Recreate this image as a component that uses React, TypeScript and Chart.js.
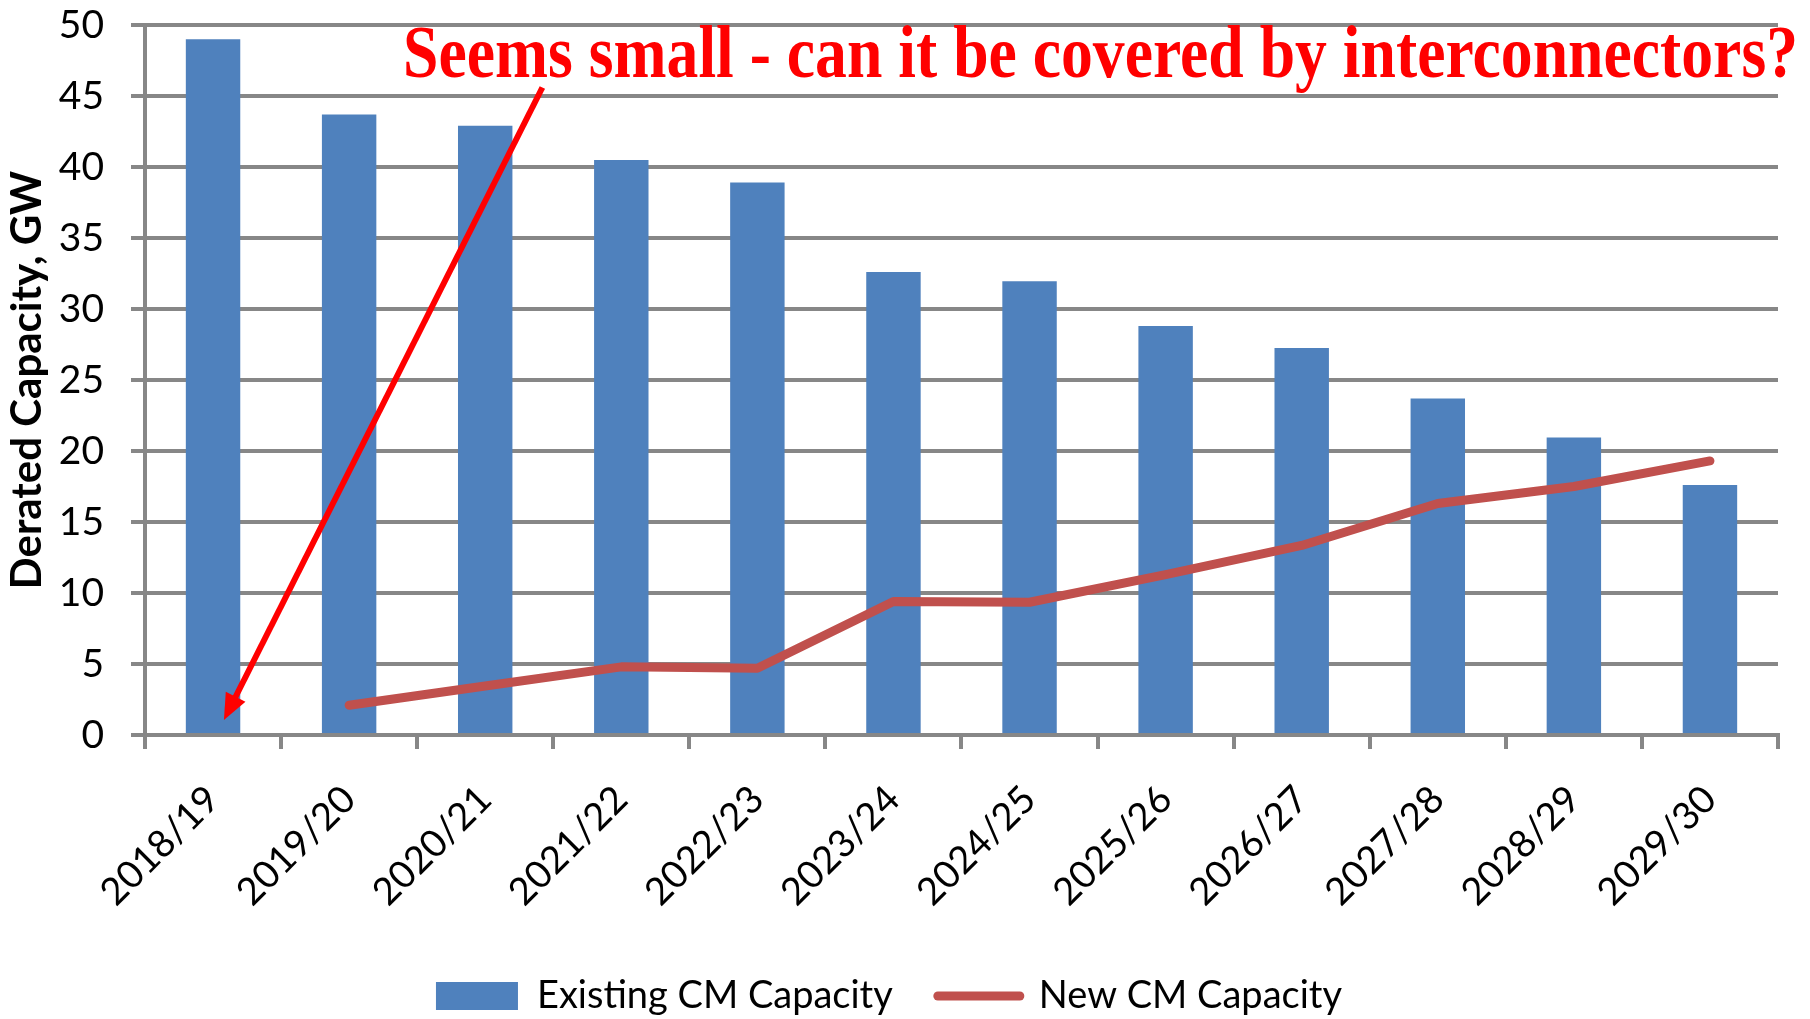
import React, { useEffect, useRef } from "react";
import { Chart, registerables } from "chart.js";

Chart.register(...registerables);

// ---------- data ----------
const categories = [
  "2018/19", "2019/20", "2020/21", "2021/22", "2022/23", "2023/24",
  "2024/25", "2025/26", "2026/27", "2027/28", "2028/29", "2029/30",
];
const existingCapacity = [49.0, 43.7, 42.9, 40.5, 38.9, 32.6, 31.95, 28.8, 27.25, 23.7, 20.95, 17.6];
const newCapacity = [null, 2.1, 3.45, 4.8, 4.7, 9.4, 9.35, 11.3, 13.35, 16.3, 17.5, 19.3];
const seriesNames = ["Existing CM Capacity", "New CM Capacity"];
const yAxisTitle = "Derated Capacity, GW";
const yMin = 0;
const yMax = 50;
const yStep = 5;

const annotationText = "Seems small - can it be covered by interconnectors?";
// annotation anchors in data units (category index, GW)
const annotationTextAnchor = [1.396, 46.34];
const arrowStart = [2.42, 45.6];
const arrowTip = [0.08, 1.06];

// ---------- styles ----------
const BAR_COLOR = "#4F81BD";
const LINE_COLOR = "#C0504D";
const GRID_COLOR = "#878787";
const FONT = "Lato";

const annotationPlugin = {
  id: "redAnnotation",
  afterDraw(chart: any) {
    const ctx = chart.ctx as CanvasRenderingContext2D;
    const xs = chart.scales.x;
    const ys = chart.scales.y;
    ctx.save();
    // text
    ctx.font = 'bold 74px "Liberation Serif"';
    ctx.fillStyle = "#FF0000";
    ctx.textBaseline = "alphabetic";
    ctx.textAlign = "left";
    const tx = xs.getPixelForValue(annotationTextAnchor[0]);
    const ty = ys.getPixelForValue(annotationTextAnchor[1]);
    const w = ctx.measureText(annotationText).width;
    const targetW = 1395;
    ctx.translate(tx, ty);
    ctx.scale(targetW / w, 1);
    ctx.fillText(annotationText, 0, 0);
    ctx.restore();

    // arrow
    ctx.save();
    const x1 = xs.getPixelForValue(arrowStart[0]);
    const y1 = ys.getPixelForValue(arrowStart[1]);
    const x2 = xs.getPixelForValue(arrowTip[0]);
    const y2 = ys.getPixelForValue(arrowTip[1]);
    const ang = Math.atan2(y2 - y1, x2 - x1);
    const headLen = 26;
    const headHalf = 11;
    const bx = x2 - headLen * Math.cos(ang);
    const by = y2 - headLen * Math.sin(ang);
    ctx.strokeStyle = "#FF0000";
    ctx.fillStyle = "#FF0000";
    ctx.lineWidth = 6;
    ctx.beginPath();
    ctx.moveTo(x1, y1);
    ctx.lineTo(bx + 2 * Math.cos(ang), by + 2 * Math.sin(ang));
    ctx.stroke();
    ctx.beginPath();
    ctx.moveTo(x2, y2);
    ctx.lineTo(bx + headHalf * Math.sin(ang), by - headHalf * Math.cos(ang));
    ctx.lineTo(bx - headHalf * Math.sin(ang), by + headHalf * Math.cos(ang));
    ctx.closePath();
    ctx.fill();
    ctx.restore();
  },
};

export default function App() {
  const canvasRef = useRef<HTMLCanvasElement | null>(null);

  useEffect(() => {
    document.body.style.margin = "0";
    const canvas = canvasRef.current;
    if (!canvas) return;
    const chart = new Chart(canvas, {
      type: "bar",
      data: {
        labels: categories,
        datasets: [
          {
            type: "bar",
            label: seriesNames[0],
            data: existingCapacity,
            backgroundColor: BAR_COLOR,
            borderWidth: 0,
            barPercentage: 0.4,
            categoryPercentage: 1,
            order: 1,
          },
          {
            type: "line",
            label: seriesNames[1],
            data: newCapacity as any,
            borderColor: LINE_COLOR,
            backgroundColor: LINE_COLOR,
            borderWidth: 9,
            borderCapStyle: "round",
            borderJoinStyle: "round",
            pointRadius: 0,
            pointHoverRadius: 0,
            tension: 0,
            fill: false,
            order: 0,
          },
        ],
      } as any,
      options: {
        responsive: false,
        animation: false,
        devicePixelRatio: 1,
        layout: { padding: { top: 25, right: 32, bottom: -6, left: 0 } },
        plugins: {
          tooltip: { enabled: false },
          legend: {
            display: true,
            position: "bottom",
            labels: {
              usePointStyle: true,
              pointStyleWidth: 82,
              boxHeight: 28,
              padding: 45,
              color: "#000",
              font: { family: FONT, size: 38 },
              generateLabels: () => [
                {
                  text: seriesNames[0],
                  fillStyle: BAR_COLOR,
                  strokeStyle: BAR_COLOR,
                  lineWidth: 0,
                  pointStyle: "rect",
                  hidden: false,
                  datasetIndex: 0,
                  fontColor: "#000",
                },
                {
                  text: seriesNames[1],
                  fillStyle: LINE_COLOR,
                  strokeStyle: LINE_COLOR,
                  lineWidth: 9,
                  lineCap: "round",
                  pointStyle: "line",
                  hidden: false,
                  datasetIndex: 1,
                  fontColor: "#000",
                },
              ],
            },
          },
        },
        scales: {
          x: {
            offset: true,
            grid: {
              offset: true,
              drawOnChartArea: false,
              drawTicks: true,
              tickLength: 14,
              color: GRID_COLOR,
              lineWidth: 4,
            },
            border: { display: true, color: GRID_COLOR, width: 4 },
            ticks: {
              autoSkip: false,
              minRotation: 45,
              maxRotation: 45,
              padding: 28,
              color: "#000",
              font: { family: FONT, size: 38 },
            },
            afterFit: (scale: any) => {
              scale.height = 197;
            },
          },
          y: {
            min: yMin,
            max: yMax,
            grid: {
              color: GRID_COLOR,
              lineWidth: 4,
              tickLength: 14,
              drawTicks: true,
            },
            border: { display: true, color: GRID_COLOR, width: 4 },
            ticks: {
              stepSize: yStep,
              padding: 27,
              color: "#000",
              font: { family: FONT, size: 39 },
            },
            title: {
              display: true,
              text: yAxisTitle,
              color: "#000",
              font: { family: FONT, size: 42, weight: "bold" },
              padding: { top: 2, bottom: 0 },
            },
            afterFit: (scale: any) => {
              scale.width = 145;
              scale.paddingTop = 20;
              scale.paddingBottom = 20;
            },
          },
        },
      } as any,
      plugins: [annotationPlugin],
    });
    return () => chart.destroy();
  }, []);

  return (
    <div style={{ width: 1810, height: 1019, background: "#fff" }}>
      <canvas ref={canvasRef} width={1810} height={1019} style={{ display: "block" }} />
    </div>
  );
}
